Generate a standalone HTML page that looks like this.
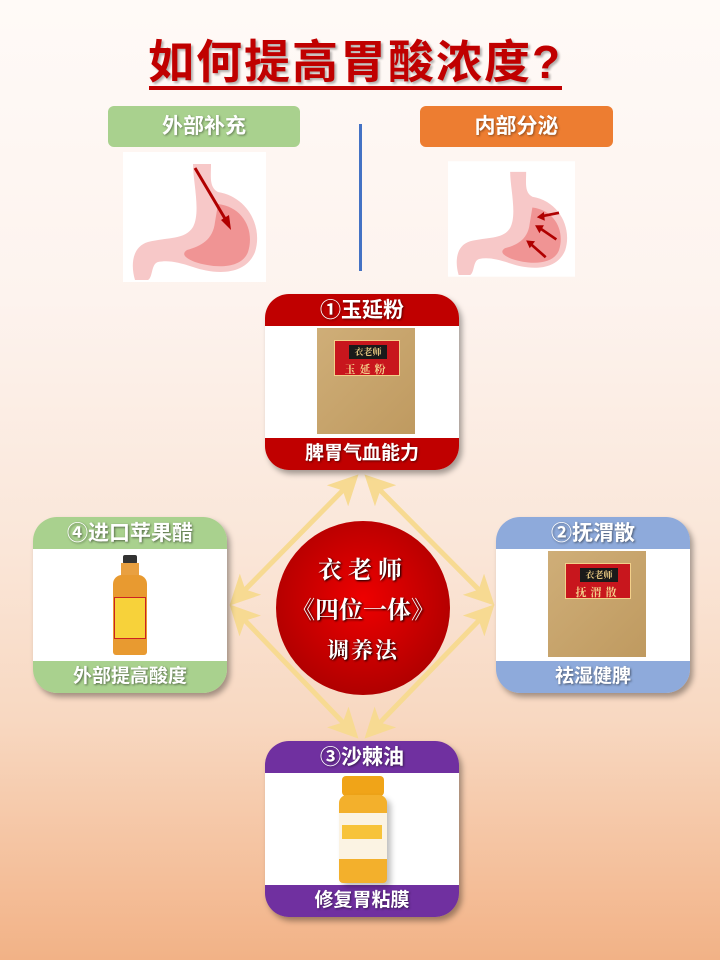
<!DOCTYPE html>
<html><head><meta charset="utf-8"><style>
*{margin:0;padding:0;box-sizing:border-box}
body{width:720px;height:960px;overflow:hidden;position:relative;font-family:"Liberation Sans","Noto Sans CJK SC",sans-serif;
background:linear-gradient(#fffaf7 0px,#fdf3ee 300px,#fae6d8 550px,#f8d8c1 720px,#f2b286 960px)}
.a{position:absolute}
.title{left:140px;top:26px;width:430px;text-align:center;font-size:46px;font-weight:bold;color:#c00000;letter-spacing:2px;text-shadow:2px 2px 2px rgba(0,0,0,.3);white-space:nowrap}
.tag{height:41px;border-radius:6px;color:#fff;font-size:21px;font-weight:bold;text-align:center;line-height:41px;text-shadow:1px 1px 2px rgba(0,0,0,.4)}
.card{width:194px;height:176px;border-radius:24px;overflow:hidden;box-shadow:3px 4px 6px rgba(0,0,0,.35)}
.card .h{height:32px;color:#fff;font-size:21px;font-weight:bold;text-align:center;line-height:33px;text-shadow:1px 1px 2px rgba(0,0,0,.5)}
.card .m{height:112px;background:#fff;position:relative}
.card .f{height:32px;color:#fff;font-size:19px;font-weight:bold;text-align:center;line-height:31px;text-shadow:1px 1px 2px rgba(0,0,0,.5)}
.box{position:absolute;left:52px;top:2px;width:98px;height:106px;background:linear-gradient(135deg,#cfae78,#bf9a60);}
.lab{position:absolute;left:17px;top:12px;width:66px;height:36px;background:#c8161d;border:1px solid #f3d08a}
.lab b{position:absolute;left:14px;top:4px;width:38px;height:14px;background:#1a1a1a;color:#e8c880;font-size:9px;line-height:14px;text-align:center;font-family:"Noto Serif CJK SC",serif}
.lab i{position:absolute;left:0;right:0;top:20px;color:#f3d08a;font-style:normal;font-size:11px;font-weight:bold;text-align:center;letter-spacing:4px;font-family:"Noto Serif CJK SC",serif}
</style></head><body>
<div class="a title">如何提高胃酸浓度?</div>
<div class="a" style="left:149px;top:86px;width:413px;height:4px;background:#c00000"></div>

<div class="a tag" style="left:108px;top:106px;width:192px;background:#a9d18e">外部补充</div>
<div class="a tag" style="left:420px;top:106px;width:193px;background:#ed7d31">内部分泌</div>
<div class="a" style="left:359px;top:124px;width:3px;height:147px;background:#4472c4"></div>

<svg class="a" style="left:123px;top:152px" width="143" height="130" viewBox="0 0 143 130">
<rect width="143" height="130" fill="#fff"/>
<path d="M70,12 L88,12 C88,25 86,35 95,40 C125,45 140,75 132,100 C122,125 90,122 70,115 C55,110 45,108 35,110 C28,112 30,125 25,128 L12,128 C8,115 8,95 25,90 C45,85 62,88 70,75 C78,60 70,30 70,12Z" fill="#f7c8c8"/>
<path d="M95,52 C120,55 132,78 125,100 C118,118 90,116 72,110 C62,106 58,102 64,98 C78,94 90,88 92,70 Z" fill="#f09494"/>
<line x1="72" y1="16" x2="104" y2="70" stroke="#b00000" stroke-width="3"/>
<path d="M98,68 L108,78 L106,63Z" fill="#b00000"/>
</svg>
<svg class="a" style="left:448px;top:156px" width="127" height="126" viewBox="0 0 143 130">
<rect width="143" height="130" fill="#fff"/>
<path d="M70,12 L88,12 C88,25 86,35 95,40 C125,45 140,75 132,100 C122,125 90,122 70,115 C55,110 45,108 35,110 C28,112 30,125 25,128 L12,128 C8,115 8,95 25,90 C45,85 62,88 70,75 C78,60 70,30 70,12Z" fill="#f7c8c8"/>
<path d="M95,52 C120,55 132,78 125,100 C118,118 90,116 72,110 C62,106 58,102 64,98 C78,94 90,88 92,70 Z" fill="#f09494"/>
<g stroke="#b00000" stroke-width="3" fill="#b00000">
<line x1="125" y1="58" x2="105" y2="62"/><path d="M100,63 L108,57 L109,67Z" stroke="none"/>
<line x1="122" y1="88" x2="103" y2="75"/><path d="M98,72 L108,72 L103,81Z" stroke="none"/>
<line x1="110" y1="108" x2="93" y2="93"/><path d="M88,89 L98,90 L92,98Z" stroke="none"/>
</g>
</svg>

<svg class="a" style="left:0;top:0" width="720" height="960">
<defs><marker id="ah" markerWidth="6" markerHeight="6" refX="5" refY="3" orient="auto-start-reverse" markerUnits="strokeWidth"><path d="M0,0 L6,3 L0,6 L1.5,3Z" fill="#f7da92"/></marker></defs>
<g stroke="#f7da92" stroke-width="5" fill="none">
<line x1="355" y1="478" x2="233" y2="602" marker-start="url(#ah)" marker-end="url(#ah)"/>
<line x1="368" y1="478" x2="491" y2="602" marker-start="url(#ah)" marker-end="url(#ah)"/>
<line x1="233" y1="608" x2="355" y2="735" marker-start="url(#ah)" marker-end="url(#ah)"/>
<line x1="491" y1="608" x2="368" y2="735" marker-start="url(#ah)" marker-end="url(#ah)"/>
</g>
<defs><radialGradient id="rg" cx="50%" cy="45%" r="55%"><stop offset="0" stop-color="#ee0000"/><stop offset="1" stop-color="#b00000"/></radialGradient></defs>
<circle cx="363" cy="608" r="87" fill="url(#rg)"/>
<g fill="#fff" font-family="Noto Serif CJK SC,serif" font-weight="bold" text-anchor="middle" style="text-shadow:1px 1px 2px #000">
<text x="363" y="578" font-size="24" letter-spacing="6">衣老师</text>
<text x="363" y="618" font-size="24">《四位一体》</text>
<text x="363" y="658" font-size="22" letter-spacing="2">调养法</text>
</g>
</svg>

<div class="a card" style="left:265px;top:294px">
<div class="h" style="background:#c00000">①玉延粉</div>
<div class="m"><div class="box"><div class="lab"><b>衣老师</b><i>玉延粉</i></div></div></div>
<div class="f" style="background:#c00000">脾胃气血能力</div></div>

<div class="a card" style="left:496px;top:517px">
<div class="h" style="background:#8eaadb">②抚渭散</div>
<div class="m"><div class="box"><div class="lab"><b>衣老师</b><i>抚渭散</i></div></div></div>
<div class="f" style="background:#8eaadb">祛湿健脾</div></div>

<div class="a card" style="left:33px;top:517px">
<div class="h" style="background:#a9d18e">④进口苹果醋</div>
<div class="m">
<div style="position:absolute;left:90px;top:6px;width:14px;height:9px;background:#333;border-radius:2px"></div>
<div style="position:absolute;left:88px;top:14px;width:18px;height:14px;background:#e9a040"></div>
<div style="position:absolute;left:80px;top:26px;width:34px;height:80px;background:#e89a30;border-radius:9px 9px 3px 3px"></div>
<div style="position:absolute;left:81px;top:48px;width:32px;height:42px;background:#f7d23a;border:1px solid #c22"></div>
</div>
<div class="f" style="background:#a9d18e">外部提高酸度</div></div>

<div class="a card" style="left:265px;top:741px">
<div class="h" style="background:#7030a0">③沙棘油</div>
<div class="m">
<div style="position:absolute;left:77px;top:3px;width:42px;height:20px;background:#f0a418;border-radius:4px"></div>
<div style="position:absolute;left:74px;top:22px;width:48px;height:88px;background:#f3b02c;border-radius:8px 8px 4px 4px;box-shadow:4px 4px 6px rgba(0,0,0,.25)"></div>
<div style="position:absolute;left:74px;top:40px;width:48px;height:46px;background:#fbf3e3"></div>
<div style="position:absolute;left:77px;top:52px;width:40px;height:14px;background:#f7c33a"></div>
</div>
<div class="f" style="background:#7030a0">修复胃粘膜</div></div>
</body></html>
